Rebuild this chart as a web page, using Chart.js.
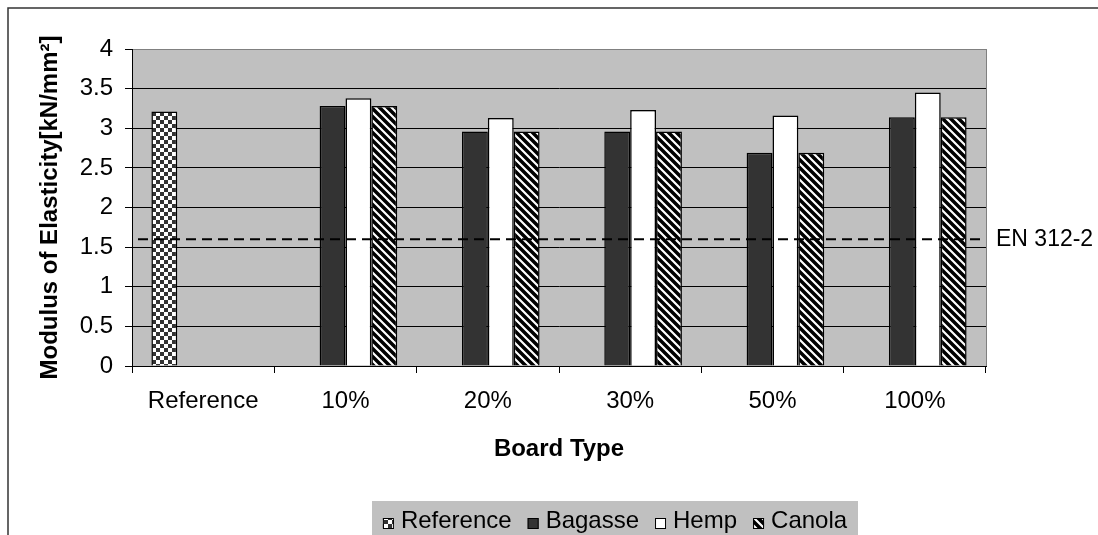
<!DOCTYPE html>
<html>
<head>
<meta charset="utf-8">
<script src="https://cdn.jsdelivr.net/npm/chart.js@4"></script>
<style>
  body { margin: 0; background: #fff; }
  #wrap { width: 1098px; height: 535px; position: relative; }
</style>
</head>
<body>
<div id="wrap"><canvas id="myChart"></canvas></div>
<script>
const categories = ["Reference", "10%", "20%", "30%", "50%", "100%"];
const referenceValues = [3.21, null, null, null, null, null];
const bagasseValues = [null, 3.28, 2.96, 2.96, 2.69, 3.14];
const hempValues = [null, 3.38, 3.13, 3.23, 3.16, 3.45];
const canolaValues = [null, 3.28, 2.96, 2.96, 2.69, 3.14];
const yTicks = [0, 0.5, 1, 1.5, 2, 2.5, 3, 3.5, 4];
const enLimit = 1.6;
const enLabel = "EN 312-2";

const FONT = "'Liberation Sans', Arial, sans-serif";

// fill patterns like the old excel ones
function checkerPattern() {
  const c = document.createElement("canvas");
  c.width = 8; c.height = 8;
  const g = c.getContext("2d");
  g.fillStyle = "#fff";
  g.fillRect(0, 0, 8, 8);
  g.fillStyle = "#333";
  g.fillRect(0, 0, 4, 4);
  g.fillRect(4, 4, 4, 4);
  return g.createPattern(c, "repeat");
}
function stripePattern() {
  const c = document.createElement("canvas");
  c.width = 8; c.height = 8;
  const g = c.getContext("2d");
  g.fillStyle = "#fff";
  g.fillRect(0, 0, 8, 8);
  g.strokeStyle = "#000";
  g.lineWidth = 3.5;
  g.beginPath();
  g.moveTo(-4, -4); g.lineTo(12, 12);
  g.moveTo(-4, 4); g.lineTo(4, 12);
  g.moveTo(4, -4); g.lineTo(12, 4);
  g.stroke();
  return g.createPattern(c, "repeat");
}

const plotBack = {
  id: "plotBack",
  beforeDraw(chart) {
    const { ctx, chartArea: a } = chart;
    ctx.save();
    // outer frame
    ctx.strokeStyle = "#333";
    ctx.lineWidth = 1.5;
    ctx.strokeRect(8, 8, 1200, 700);
    ctx.fillStyle = "#c0c0c0";
    ctx.fillRect(a.left, a.top, a.right - a.left, a.bottom - a.top);
    ctx.restore();
  },
  beforeDatasetsDraw(chart) {
    const { ctx, chartArea: a } = chart;
    ctx.save();
    ctx.strokeStyle = "#808080";
    ctx.lineWidth = 1;
    ctx.beginPath();
    ctx.moveTo(Math.round(a.right) + 0.5, a.top);
    ctx.lineTo(Math.round(a.right) + 0.5, a.bottom);
    ctx.stroke();
    ctx.restore();
  },
  afterDatasetsDraw(chart) {
    const { ctx, chartArea: a, scales } = chart;
    const y = scales.y.getPixelForValue(enLimit);
    ctx.save();
    ctx.strokeStyle = "#000";
    ctx.lineWidth = 2;
    ctx.setLineDash([10, 6]);
    ctx.beginPath();
    ctx.moveTo(a.left + 6, y);
    ctx.lineTo(a.right - 6, y);
    ctx.stroke();
    ctx.setLineDash([]);
    ctx.fillStyle = "#000";
    ctx.font = "23px " + FONT;
    ctx.textBaseline = "middle";
    ctx.fillText(enLabel, a.right + 10, y);
    ctx.restore();
  },
  afterDraw(chart) {
    const ctx = chart.ctx;
    const sets = chart.data.datasets;
    ctx.save();
    ctx.font = "24px " + FONT;
    const box = 11, gap1 = 7, gap2 = 16;
    let total = 0;
    sets.forEach((d, i) => {
      total += box + gap1 + ctx.measureText(d.label).width + (i < sets.length - 1 ? gap2 : 0);
    });
    const bx = 372, bw = 486;
    ctx.fillStyle = "#c0c0c0";
    ctx.fillRect(bx, 501, bw, 40);
    let x = bx + (bw - total) / 2;
    ctx.textBaseline = "alphabetic";
    sets.forEach((d) => {
      ctx.fillStyle = d.backgroundColor;
      ctx.fillRect(x, 518, box, box);
      ctx.strokeStyle = "#000";
      ctx.lineWidth = 1;
      ctx.strokeRect(x + 0.5, 518.5, box - 1, box - 1);
      x += box + gap1;
      ctx.fillStyle = "#000";
      ctx.fillText(d.label, x, 528);
      x += ctx.measureText(d.label).width + gap2;
    });
    ctx.restore();
  },
};

const barStyle = {
  borderColor: "#000",
  borderWidth: 1.5,
  barPercentage: 1,
  categoryPercentage: 4 / 5.5,
};

new Chart(document.getElementById("myChart"), {
  type: "bar",
  data: {
    labels: categories,
    datasets: [
      { label: "Reference", data: referenceValues, backgroundColor: checkerPattern(), ...barStyle },
      { label: "Bagasse", data: bagasseValues, backgroundColor: "#333333", ...barStyle },
      { label: "Hemp", data: hempValues, backgroundColor: "#ffffff", ...barStyle },
      { label: "Canola", data: canolaValues, backgroundColor: stripePattern(), ...barStyle },
    ],
  },
  options: {
    responsive: true,
    maintainAspectRatio: false,
    animation: false,
    layout: { padding: { top: 49, right: 112, left: 0, bottom: 0 } },
    plugins: {
      legend: { display: false },
      tooltip: { enabled: false },
    },
    scales: {
      x: {
        afterFit(scale) { scale.height = 169; },
        grid: {
          offset: true,
          drawOnChartArea: false,
          color: "#000",
          tickLength: 7,
        },
        border: { color: "#000", width: 1 },
        ticks: {
          color: "#000",
          padding: 14,
          font: { family: FONT, size: 24 },
          maxRotation: 0,
        },
        title: {
          display: true,
          text: "Board Type",
          color: "#000",
          font: { family: FONT, size: 24, weight: "bold" },
          padding: { top: 0, bottom: 71 },
        },
      },
      y: {
        min: 0,
        max: 4,
        afterFit(scale) { scale.width = 132; },
        afterBuildTicks(scale) {
          scale.ticks = yTicks.map((v) => ({ value: v }));
        },
        grid: {
          color: (c) => (c.tick && c.tick.value === 4 ? "#808080" : "#000"),
          tickColor: "#000",
          tickLength: 7,
        },
        border: { color: "#000", width: 1 },
        ticks: {
          color: "#000",
          padding: 12,
          font: { family: FONT, size: 24 },
          callback: (v) => String(v),
        },
        title: {
          display: true,
          text: "Modulus of Elasticity[kN/mm²]",
          color: "#000",
          font: { family: FONT, size: 24, weight: "bold" },
          padding: { top: 36, bottom: 0 },
        },
      },
    },
  },
  plugins: [plotBack],
});
</script>
</body>
</html>
